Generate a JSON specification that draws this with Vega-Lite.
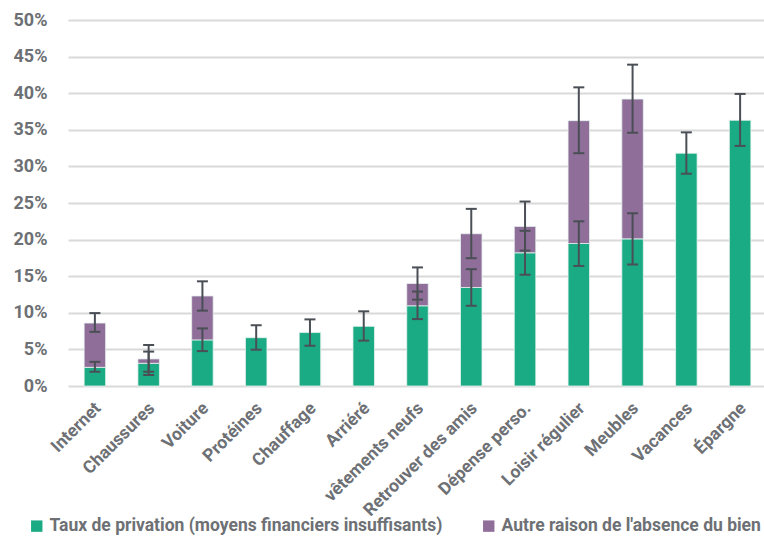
{
  "$schema": "https://vega.github.io/schema/vega-lite/v6.json",
  "autosize": "none",
  "width": 696,
  "height": 366,
  "padding": {"left": 68, "top": 20, "right": 0, "bottom": 152},
  "background": "white",
  "config": {
    "view": {"stroke": null},
    "font": "Roboto, sans-serif",
    "axisY": {
      "title": null,
      "format": ".0%",
      "tickCount": 10,
      "labelOverlap": false,
      "domain": false,
      "ticks": false,
      "gridColor": "#d9d9d9",
      "gridWidth": 2,
      "labelFontSize": 18,
      "labelFontWeight": "bold",
      "labelColor": "#6d7074",
      "labelPadding": 21
    }
  },
  "datasets": {
    "bars": [
      {"cat": "Internet", "serie": "Taux de privation (moyens financiers insuffisants)", "v": 0.0255},
      {"cat": "Internet", "serie": "Autre raison de l'absence du bien", "v": 0.0605},
      {"cat": "Chaussures", "serie": "Taux de privation (moyens financiers insuffisants)", "v": 0.031},
      {"cat": "Chaussures", "serie": "Autre raison de l'absence du bien", "v": 0.006},
      {"cat": "Voiture", "serie": "Taux de privation (moyens financiers insuffisants)", "v": 0.063},
      {"cat": "Voiture", "serie": "Autre raison de l'absence du bien", "v": 0.06},
      {"cat": "Protéines", "serie": "Taux de privation (moyens financiers insuffisants)", "v": 0.066},
      {"cat": "Chauffage", "serie": "Taux de privation (moyens financiers insuffisants)", "v": 0.073},
      {"cat": "Arriéré", "serie": "Taux de privation (moyens financiers insuffisants)", "v": 0.0815},
      {"cat": "vêtements neufs", "serie": "Taux de privation (moyens financiers insuffisants)", "v": 0.1096},
      {"cat": "vêtements neufs", "serie": "Autre raison de l'absence du bien", "v": 0.0304},
      {"cat": "Retrouver des amis", "serie": "Taux de privation (moyens financiers insuffisants)", "v": 0.1346},
      {"cat": "Retrouver des amis", "serie": "Autre raison de l'absence du bien", "v": 0.0734},
      {"cat": "Dépense perso.", "serie": "Taux de privation (moyens financiers insuffisants)", "v": 0.182},
      {"cat": "Dépense perso.", "serie": "Autre raison de l'absence du bien", "v": 0.036},
      {"cat": "Loisir régulier", "serie": "Taux de privation (moyens financiers insuffisants)", "v": 0.1947},
      {"cat": "Loisir régulier", "serie": "Autre raison de l'absence du bien", "v": 0.1678},
      {"cat": "Meubles", "serie": "Taux de privation (moyens financiers insuffisants)", "v": 0.201},
      {"cat": "Meubles", "serie": "Autre raison de l'absence du bien", "v": 0.191},
      {"cat": "Vacances", "serie": "Taux de privation (moyens financiers insuffisants)", "v": 0.318},
      {"cat": "Épargne", "serie": "Taux de privation (moyens financiers insuffisants)", "v": 0.363}
    ],
    "errs": [
      {"cat": "Internet", "lo": 0.0195, "hi": 0.033},
      {"cat": "Internet", "lo": 0.074, "hi": 0.0996},
      {"cat": "Chaussures", "lo": 0.015, "hi": 0.047},
      {"cat": "Chaussures", "lo": 0.0195, "hi": 0.056},
      {"cat": "Voiture", "lo": 0.0477, "hi": 0.0787},
      {"cat": "Voiture", "lo": 0.103, "hi": 0.143},
      {"cat": "Protéines", "lo": 0.0496, "hi": 0.083},
      {"cat": "Chauffage", "lo": 0.055, "hi": 0.091},
      {"cat": "Arriéré", "lo": 0.062, "hi": 0.102},
      {"cat": "vêtements neufs", "lo": 0.0914, "hi": 0.129},
      {"cat": "vêtements neufs", "lo": 0.118, "hi": 0.162},
      {"cat": "Retrouver des amis", "lo": 0.1096, "hi": 0.1596},
      {"cat": "Retrouver des amis", "lo": 0.1746, "hi": 0.242},
      {"cat": "Dépense perso.", "lo": 0.152, "hi": 0.212},
      {"cat": "Dépense perso.", "lo": 0.185, "hi": 0.252},
      {"cat": "Loisir régulier", "lo": 0.164, "hi": 0.225},
      {"cat": "Loisir régulier", "lo": 0.318, "hi": 0.408},
      {"cat": "Meubles", "lo": 0.166, "hi": 0.236},
      {"cat": "Meubles", "lo": 0.346, "hi": 0.439},
      {"cat": "Vacances", "lo": 0.29, "hi": 0.3465},
      {"cat": "Épargne", "lo": 0.328, "hi": 0.399}
    ]
  },
  "encoding": {
    "x": {
      "field": "cat",
      "type": "nominal",
      "sort": ["Internet", "Chaussures", "Voiture", "Protéines", "Chauffage", "Arriéré", "vêtements neufs", "Retrouver des amis", "Dépense perso.", "Loisir régulier", "Meubles", "Vacances", "Épargne"],
      "scale": {"range": [0, 699], "paddingInner": 0.6, "paddingOuter": 0.3},
      "axis": {
        "title": null,
        "domain": false,
        "ticks": false,
        "labelAngle": -45,
        "labelAlign": "right",
        "labelBaseline": "top",
        "labelFontSize": 17.5,
        "labelFontWeight": "bold",
        "labelColor": "#6d7074",
        "labelPadding": 13,
        "labelOffset": -3
      }
    }
  },
  "layer": [
    {
      "data": {"name": "bars"},
      "mark": {"type": "bar", "stroke": "#e6f2ee", "strokeWidth": 0.8},
      "encoding": {
        "y": {
          "field": "v",
          "type": "quantitative",
          "stack": "zero",
          "title": null,
          "scale": {"domain": [0, 0.5], "nice": false}
        },
        "color": {
          "field": "serie",
          "type": "nominal",
          "sort": ["Taux de privation (moyens financiers insuffisants)", "Autre raison de l'absence du bien"],
          "scale": {
            "domain": ["Taux de privation (moyens financiers insuffisants)", "Autre raison de l'absence du bien"],
            "range": ["#1aab85", "#8f6e9a"]
          },
          "legend": {
            "title": null,
            "orient": "none",
            "direction": "horizontal",
            "legendX": -40,
            "legendY": 497,
            "symbolType": "square",
            "symbolSize": 130,
            "symbolStrokeWidth": 0,
            "labelFontSize": 17.5,
            "labelFontWeight": "bold",
            "labelColor": "#6d7074",
            "labelLimit": 500,
            "columnPadding": 37,
            "symbolOffset": 0
          }
        }
      }
    },
    {
      "data": {"name": "errs"},
      "mark": {"type": "rule", "color": "#4a4f55", "strokeWidth": 2},
      "encoding": {
        "y": {"field": "lo", "type": "quantitative", "title": null},
        "y2": {"field": "hi"}
      }
    },
    {
      "data": {"name": "errs"},
      "mark": {"type": "tick", "color": "#4a4f55", "thickness": 2, "size": 11, "opacity": 1},
      "encoding": {
        "y": {"field": "lo", "type": "quantitative", "title": null}
      }
    },
    {
      "data": {"name": "errs"},
      "mark": {"type": "tick", "color": "#4a4f55", "thickness": 2, "size": 11, "opacity": 1},
      "encoding": {
        "y": {"field": "hi", "type": "quantitative", "title": null}
      }
    }
  ]
}
